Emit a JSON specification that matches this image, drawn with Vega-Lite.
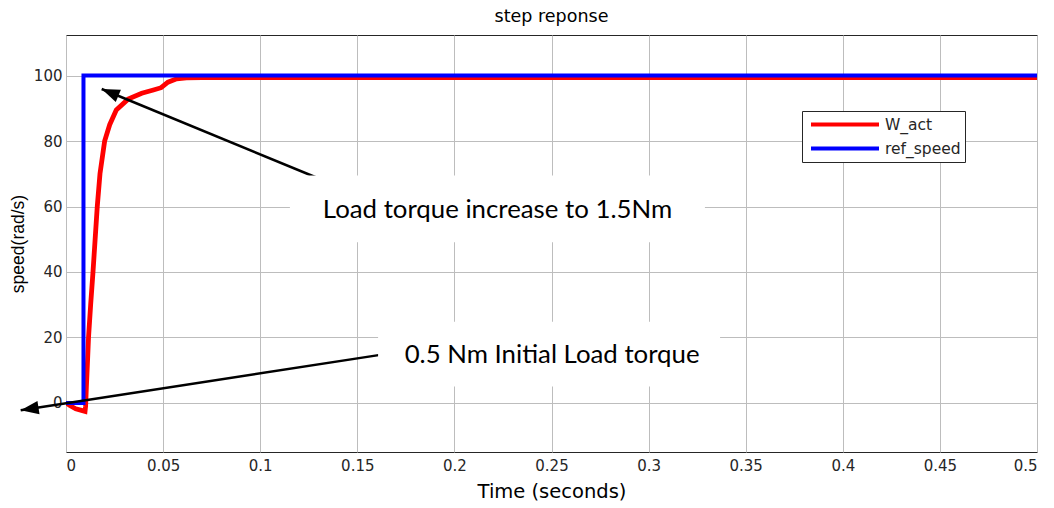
{
  "$schema": "https://vega.github.io/schema/vega-lite/v6.json",
  "width": 971,
  "height": 417,
  "autosize": {"type": "none"},
  "padding": {"left": 66, "top": 35, "right": 17, "bottom": 56},
  "background": "white",
  "title": {"text": "step reponse", "font": "DejaVu Sans", "fontSize": 17.5, "fontWeight": "normal", "color": "#000000", "offset": 10},
  "config": {
    "view": {"stroke": "#262626", "strokeWidth": 1},
    "axis": {
      "labelFont": "DejaVu Sans", "labelFontSize": 15, "labelColor": "#262626",
      "titleFont": "DejaVu Sans", "titleFontSize": 17.5, "titleFontWeight": "normal", "titleColor": "#000000",
      "gridColor": "#bdbdbd", "gridWidth": 1, "domain": false, "ticks": false
    }
  },
  "datasets": {
    "series": [
      {"t": 0, "v": 0, "series": "W_act", "i": 0},
      {"t": 0.002, "v": -0.8, "series": "W_act", "i": 1},
      {"t": 0.005, "v": -1.8, "series": "W_act", "i": 2},
      {"t": 0.008, "v": -2.3, "series": "W_act", "i": 3},
      {"t": 0.0098, "v": -2.6, "series": "W_act", "i": 4},
      {"t": 0.0101, "v": -1, "series": "W_act", "i": 5},
      {"t": 0.0105, "v": 5, "series": "W_act", "i": 6},
      {"t": 0.0111, "v": 13, "series": "W_act", "i": 7},
      {"t": 0.0116, "v": 20, "series": "W_act", "i": 8},
      {"t": 0.0127, "v": 30, "series": "W_act", "i": 9},
      {"t": 0.0139, "v": 40, "series": "W_act", "i": 10},
      {"t": 0.015, "v": 50, "series": "W_act", "i": 11},
      {"t": 0.0161, "v": 60, "series": "W_act", "i": 12},
      {"t": 0.0175, "v": 70, "series": "W_act", "i": 13},
      {"t": 0.0199, "v": 80, "series": "W_act", "i": 14},
      {"t": 0.0225, "v": 85, "series": "W_act", "i": 15},
      {"t": 0.0259, "v": 89.5, "series": "W_act", "i": 16},
      {"t": 0.032, "v": 92.8, "series": "W_act", "i": 17},
      {"t": 0.039, "v": 94.6, "series": "W_act", "i": 18},
      {"t": 0.045, "v": 95.6, "series": "W_act", "i": 19},
      {"t": 0.049, "v": 96.3, "series": "W_act", "i": 20},
      {"t": 0.0525, "v": 98, "series": "W_act", "i": 21},
      {"t": 0.057, "v": 99, "series": "W_act", "i": 22},
      {"t": 0.062, "v": 99.3, "series": "W_act", "i": 23},
      {"t": 0.07, "v": 99.4, "series": "W_act", "i": 24},
      {"t": 0.5, "v": 99.4, "series": "W_act", "i": 25},
      {"t": 0, "v": 0, "series": "ref_speed", "i": 0},
      {"t": 0.009, "v": 0, "series": "ref_speed", "i": 1},
      {"t": 0.009, "v": 100, "series": "ref_speed", "i": 2},
      {"t": 0.5, "v": 100, "series": "ref_speed", "i": 3}
    ],
    "arrows": [
      {"t": 0.01838, "v": 95.9, "t2": 0.1308, "v2": 68.4, "name": "a1"},
      {"t": -0.02333, "v": -2.26, "t2": 0.1643, "v2": 14.9, "name": "a2"}
    ],
    "boxes": [
      {"t": 0.1153, "t2": 0.329, "v": 49.1, "v2": 69.5},
      {"t": 0.1607, "t2": 0.3368, "v": 5.0, "v2": 24.8}
    ],
    "notes": [
      {"t": 0.2222, "v": 56.5, "text": "Load torque increase to 1.5Nm"},
      {"t": 0.2503, "v": 12.2, "text": "0.5 Nm Initial Load torque"}
    ]
  },
  "layer": [
    {
      "data": {"name": "series"},
      "transform": [{"filter": "datum.series === 'W_act'"}],
      "mark": {"type": "line", "strokeWidth": 4.8, "clip": true},
      "encoding": {
        "x": {"field": "t", "type": "quantitative", "scale": {"domain": [0, 0.5], "nice": false, "zero": false},
              "axis": {"values": [0, 0.05, 0.1, 0.15, 0.2, 0.25, 0.3, 0.35, 0.4, 0.45, 0.5], "format": "~g", "title": "Time (seconds)", "titleFontSize": 19.5, "labelPadding": 6, "titlePadding": 9}},
        "y": {"field": "v", "type": "quantitative", "scale": {"domain": [-15, 112.4], "nice": false, "zero": false},
              "axis": {"values": [0, 20, 40, 60, 80, 100], "title": "speed(rad/s)", "titleFont": "Liberation Sans", "titleFontSize": 17.5, "labelPadding": 4, "titlePadding": 6}},
        "order": {"field": "i", "type": "quantitative"},
        "color": {"field": "series", "type": "nominal",
                  "scale": {"domain": ["W_act", "ref_speed"], "range": ["#ff0000", "#0000ff"]},
                  "legend": {"title": null, "orient": "none", "legendX": 736, "legendY": 76,
                             "symbolType": "stroke", "symbolSize": 4624, "symbolStrokeWidth": 4,
                             "clipHeight": 19, "rowPadding": 5, "padding": 4, "symbolOffset": 3, "labelOffset": 4,
                             "labelFont": "DejaVu Sans", "labelFontSize": 15.5, "labelColor": "#262626",
                             "fillColor": "white", "strokeColor": "#262626", "cornerRadius": 0}}
      }
    },
    {
      "data": {"name": "series"},
      "transform": [{"filter": "datum.series === 'ref_speed'"}],
      "mark": {"type": "line", "strokeWidth": 4, "clip": true},
      "encoding": {
        "x": {"field": "t", "type": "quantitative"},
        "y": {"field": "v", "type": "quantitative"},
        "order": {"field": "i", "type": "quantitative"},
        "color": {"field": "series", "type": "nominal"}
      }
    },
    {
      "data": {"name": "arrows"},
      "mark": {"type": "rule", "color": "#000000", "strokeWidth": 2.5},
      "encoding": {
        "x": {"field": "t", "type": "quantitative"},
        "y": {"field": "v", "type": "quantitative"},
        "x2": {"field": "t2"},
        "y2": {"field": "v2"}
      }
    },
    {
      "data": {"name": "arrows"},
      "transform": [{"filter": "datum.name === 'a1'"}],
      "mark": {"type": "point", "shape": "M0,0L-0.75,2L0.75,2Z", "filled": true, "color": "#000000", "opacity": 1, "size": 324, "angle": 292.4},
      "encoding": {
        "x": {"field": "t", "type": "quantitative"},
        "y": {"field": "v", "type": "quantitative"}
      }
    },
    {
      "data": {"name": "arrows"},
      "transform": [{"filter": "datum.name === 'a2'"}],
      "mark": {"type": "point", "shape": "M0,0L-0.75,2L0.75,2Z", "filled": true, "color": "#000000", "opacity": 1, "size": 324, "angle": 261.2},
      "encoding": {
        "x": {"field": "t", "type": "quantitative"},
        "y": {"field": "v", "type": "quantitative"}
      }
    },
    {
      "data": {"name": "boxes"},
      "mark": {"type": "rect", "color": "white", "opacity": 1},
      "encoding": {
        "x": {"field": "t", "type": "quantitative"},
        "x2": {"field": "t2"},
        "y": {"field": "v", "type": "quantitative"},
        "y2": {"field": "v2"}
      }
    },
    {
      "data": {"name": "notes"},
      "mark": {"type": "text", "font": "Lato", "fontSize": 25.8, "color": "#000000", "align": "center", "baseline": "alphabetic"},
      "encoding": {
        "x": {"field": "t", "type": "quantitative"},
        "y": {"field": "v", "type": "quantitative"},
        "text": {"field": "text"}
      }
    }
  ]
}
